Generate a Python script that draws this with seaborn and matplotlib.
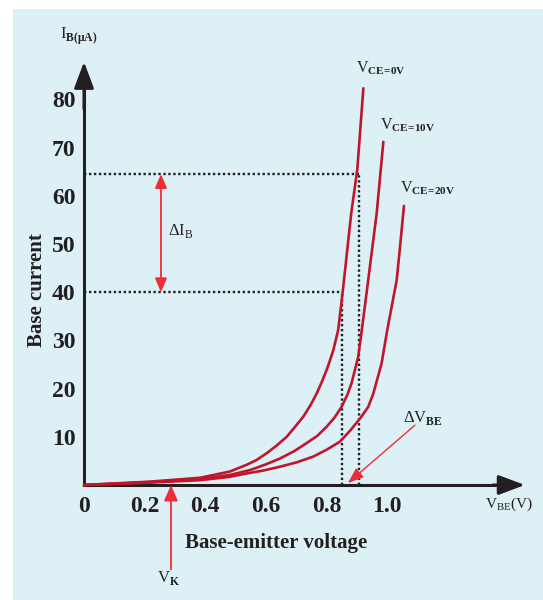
import numpy as np
import pandas as pd
import matplotlib
matplotlib.use("Agg")
import matplotlib.pyplot as plt
from matplotlib.patches import Rectangle
import seaborn as sns

# input characteristic curves: V_BE (V) vs I_B (uA)
vbe_0 = [0, 0.218, 0.383, 0.482, 0.537, 0.570, 0.603, 0.636, 0.669, 0.697, 0.724, 0.748,
         0.768, 0.785, 0.801, 0.812, 0.823, 0.839, 0.853, 0.882, 0.902, 0.922]
ib_0 = [0, 0.7, 1.5, 2.8, 4.2, 5.2, 6.6, 8.2, 10.0, 12.1, 14.2, 16.6,
        19.0, 21.4, 23.9, 25.9, 28.0, 32.2, 39.6, 56.4, 65.5, 82.3]
vbe_10 = [0, 0.218, 0.383, 0.482, 0.548, 0.597, 0.647, 0.693, 0.735, 0.770, 0.801, 0.827,
          0.850, 0.869, 0.883, 0.905, 0.917, 0.938, 0.966, 0.988]
ib_10 = [0, 0.6, 1.2, 2.1, 3.1, 4.2, 5.5, 7.0, 8.7, 10.2, 12.1, 14.0,
         16.2, 18.7, 21.1, 26.6, 32.2, 42.5, 56.4, 71.2]
vbe_20 = [0, 0.218, 0.383, 0.482, 0.537, 0.592, 0.647, 0.702, 0.757, 0.803, 0.845, 0.880,
          0.911, 0.938, 0.955, 0.982, 1.001, 1.032, 1.043, 1.056]
ib_20 = [0, 0.5, 1.0, 1.7, 2.4, 3.0, 3.8, 4.7, 5.9, 7.4, 9.0, 11.4,
         13.8, 16.2, 19.0, 25.2, 32.2, 42.5, 49.4, 57.9]
curve_names = ["VCE=0V", "VCE=10V", "VCE=20V"]

x_ticks = [0, 0.2, 0.4, 0.6, 0.8, 1.0]
x_ticklabels = ["0", "0.2", "0.4", "0.6", "0.8", "1.0"]
y_ticks = [10, 20, 30, 40, 50, 60, 70, 80]

delta_ib = [40, 64.5]      # dotted levels of I_B
delta_vbe = [0.852, 0.906]  # dotted levels of V_BE
v_knee = 0.287

df = pd.concat([
    pd.DataFrame({"VBE": vbe_0, "IB": ib_0, "curve": curve_names[0]}),
    pd.DataFrame({"VBE": vbe_10, "IB": ib_10, "curve": curve_names[1]}),
    pd.DataFrame({"VBE": vbe_20, "IB": ib_20, "curve": curve_names[2]}),
])

sns.set_style("white")
plt.rcParams["font.family"] = ["Liberation Serif", "DejaVu Serif"]
plt.rcParams["mathtext.fontset"] = "custom"
plt.rcParams["mathtext.rm"] = "Liberation Serif"
plt.rcParams["mathtext.bf"] = "Liberation Serif:bold"

ink = "#231f20"
curve_red = "#c0162c"
note_red = "#ee2d36"
bg = "#dcf0f6"

fig = plt.figure(figsize=(5.43, 6.0), dpi=100)
fig.patch.set_facecolor("white")
fig.patches.append(Rectangle((13 / 543, 0), 1, 1 - 9 / 600, transform=fig.transFigure,
                             facecolor=bg, edgecolor="none", zorder=-10))
ax = fig.add_axes([0, 0, 1, 1])
ax.patch.set_alpha(0)
ax.set_xlim(-84 / 303, 459 / 303)
ax.set_ylim(-115 / 4.82, 485 / 4.82)

sns.lineplot(data=df, x="VBE", y="IB", hue="curve", units="curve", estimator=None,
             sort=False, palette=[curve_red] * 3, linewidth=1.9, legend=False, ax=ax,
             zorder=4)

# dotted guides
dot = dict(color=ink, lw=1.7, ls=(0, (1, 1.1)), zorder=3)
ax.plot([0, delta_vbe[1]], [delta_ib[1]] * 2, **dot)
ax.plot([0, delta_vbe[0]], [delta_ib[0]] * 2, **dot)
ax.plot([delta_vbe[1]] * 2, [0, delta_ib[1]], **dot)
ax.plot([delta_vbe[0]] * 2, [0, delta_ib[0]], **dot)

# axes as arrows
for side in ["top", "right"]:
    ax.spines[side].set_visible(False)
ax.spines["left"].set_position(("data", 0))
ax.spines["bottom"].set_position(("data", 0))
ax.spines["left"].set_bounds(0, 82)
ax.spines["bottom"].set_bounds(0, 1.4)
for side in ["left", "bottom"]:
    ax.spines[side].set_color(ink)
    ax.spines[side].set_linewidth(2.2)
arrow_kw = dict(arrowstyle="-|>,head_length=0.8,head_width=0.3", color=ink, lw=2.2,
                mutation_scale=20, shrinkA=0, shrinkB=0)
ax.annotate("", xy=(0, 87.8), xytext=(0, 78), arrowprops=arrow_kw)
ax.annotate("", xy=(1.455, 0), xytext=(1.35, 0), arrowprops=arrow_kw)

ax.set_xticks(x_ticks)
ax.set_xticklabels(x_ticklabels)
ax.set_yticks(y_ticks)
ax.tick_params(length=0, labelsize=17, colors=ink)
ax.tick_params(axis="x", pad=8)
ax.tick_params(axis="y", pad=6)
for lab in ax.get_xticklabels() + ax.get_yticklabels():
    lab.set_fontweight("bold")

ax.set_ylabel("Base current", fontsize=15, fontweight="bold", color=ink)
ax.yaxis.set_label_coords(0.086, 0.517)
ax.set_xlabel("Base-emitter voltage", fontsize=15, fontweight="bold", color=ink)
ax.xaxis.set_label_coords(0.509, 0.112)

# curve labels and annotations
txt = dict(color=ink, ha="left", va="baseline")
ax.text(0.898, 85.7, r"V$_\mathbf{CE\!=\!0V}$", fontsize=11.5, **txt)
ax.text(0.977, 73.9, r"V$_\mathbf{CE\!=\!10V}$", fontsize=11.5, **txt)
ax.text(1.043, 60.8, r"V$_\mathbf{CE\!=\!20V}$", fontsize=11.5, **txt)
ax.text(-0.079, 92.5, r"I$_\mathbf{B(μA)}$", fontsize=12, **txt)
ax.text(1.323, -4.8, r"V$_\mathregular{BE}$(V)", fontsize=11, **txt)
ax.text(0.277, 51.9, r"ΔI$_\mathregular{B}$", fontsize=12, **txt)
ax.text(1.053, 13.1, r"ΔV$_\mathbf{BE}$", fontsize=12, **txt)
ax.text(0.241, -20.1, r"V$_\mathbf{K}$", fontsize=12, **txt)

red_kw = dict(color=note_red, lw=1.3, shrinkA=0, shrinkB=0, mutation_scale=12)
ax.annotate("", xy=(0.254, delta_ib[1]), xytext=(0.254, delta_ib[0]),
            arrowprops=dict(arrowstyle="<|-|>,head_length=0.7,head_width=0.3", **red_kw))
ax.annotate("", xy=(v_knee, 0), xytext=(v_knee, -17.5),
            arrowprops=dict(arrowstyle="-|>,head_length=0.8,head_width=0.35", **red_kw))
ax.annotate("", xy=(0.871, 0.4), xytext=(1.092, 12.4),
            arrowprops=dict(arrowstyle="-|>,head_length=0.8,head_width=0.3",
                            **{**red_kw, "lw": 1.0}))

fig.savefig("out.png", dpi=100, facecolor=fig.get_facecolor())
